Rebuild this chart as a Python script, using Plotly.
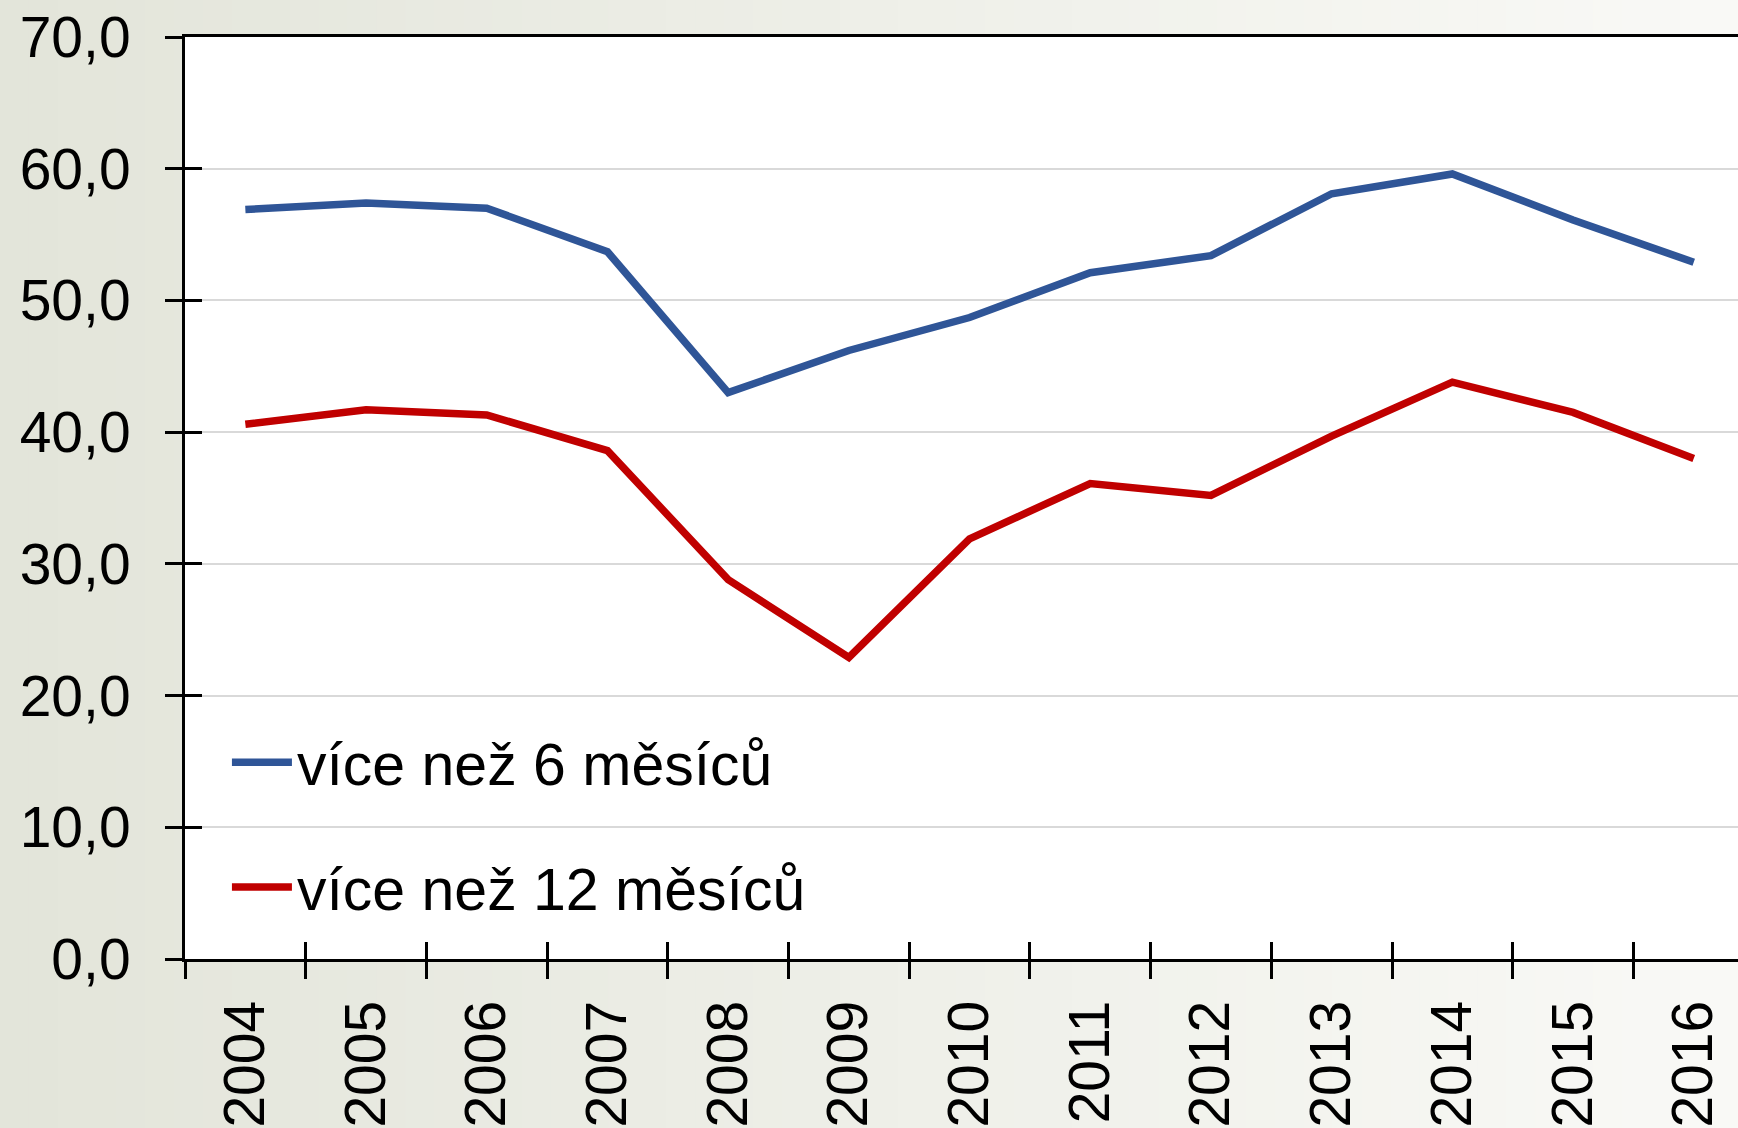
import plotly.graph_objects as go

years = ["2004", "2005", "2006", "2007", "2008", "2009", "2010",
         "2011", "2012", "2013", "2014", "2015", "2016"]
over_6_months = [56.9, 57.4, 57.0, 53.7, 43.0, 46.2, 48.7, 52.1, 53.4, 58.1, 59.6, 56.1, 52.9]
over_12_months = [40.6, 41.7, 41.3, 38.6, 28.8, 22.9, 31.9, 36.1, 35.2, 39.7, 43.8, 41.5, 38.0]
series_names = ["více než 6 měsíců", "více než 12 měsíců"]
y_ticks = [0, 10, 20, 30, 40, 50, 60, 70]

W, H = 1738, 1128
ML, MT, MB, MR = 185, 37, 164, 0
plot_w = W - ML - MR
plot_h = H - MT - MB

FONT = "Liberation Sans, Arial, sans-serif"
BLUE = "#2f5597"
RED = "#c00000"

fig = go.Figure()
fig.add_trace(go.Scatter(x=years, y=over_6_months, mode="lines", name=series_names[0],
                         line=dict(color=BLUE, width=7.5), legendgroup="a"))
fig.add_trace(go.Scatter(x=years, y=over_12_months, mode="lines", name=series_names[1],
                         line=dict(color=RED, width=7.5), legendgroup="b"))
# invisible trace to carry overlay axes for the crossing tick marks
fig.add_trace(go.Scatter(x=years, y=over_6_months, xaxis="x2", yaxis="y2", mode="lines",
                         line=dict(width=0, color="rgba(0,0,0,0)"), showlegend=False,
                         hoverinfo="skip"))

# background gradient (slide-like)
n = 60
c0 = (227, 229, 218)
c1 = (249, 249, 246)
x_left = -ML / plot_w
x_right = 1 + MR / plot_w
for i in range(n):
    t = i / (n - 1)
    col = tuple(int(round(c0[k] + (c1[k] - c0[k]) * t)) for k in range(3))
    fig.add_shape(type="rect", xref="paper", yref="paper", layer="below",
                  x0=x_left + (x_right - x_left) * i / n,
                  x1=x_left + (x_right - x_left) * (i + 1) / n + 0.002,
                  y0=-MB / plot_h - 0.01, y1=1 + MT / plot_h + 0.01,
                  line=dict(width=0), fillcolor="rgb(%d,%d,%d)" % col)
# white plot area on top of the gradient
fig.add_shape(type="rect", xref="paper", yref="paper", layer="below",
              x0=0, x1=1, y0=0, y1=1, line=dict(width=0), fillcolor="white")

xrange = [-0.5, -0.5 + (W - ML) / 120.7]

fig.update_layout(
    width=W, height=H,
    margin=dict(l=ML, r=MR, t=MT, b=MB, pad=0),
    paper_bgcolor="rgb(238,239,232)",
    plot_bgcolor="white",
    separators=", ",
    font=dict(family=FONT, size=57, color="black"),
    showlegend=True,
    legend=dict(x=0.027, y=0.262, xanchor="left", yanchor="top",
                bgcolor="rgba(0,0,0,0)", borderwidth=0,
                font=dict(family=FONT, size=59, color="black"),
                traceorder="grouped", tracegroupgap=45, itemwidth=60),
    xaxis=dict(type="category", range=xrange, tickson="boundaries",
               ticks="outside", ticklen=17, tickwidth=3, tickcolor="black",
               showline=True, linecolor="black", linewidth=3, mirror=True,
               showgrid=False, zeroline=False, tickangle=-90,
               ticklabelstandoff=16,
               tickfont=dict(family=FONT, size=57, color="black")),
    yaxis=dict(range=[0, 70], tickvals=y_ticks, tickformat=".1f",
               ticks="outside", ticklen=17, tickwidth=3, tickcolor="black",
               showline=True, linecolor="black", linewidth=3,
               showgrid=True, gridcolor="#d9d9d9", gridwidth=2, zeroline=False,
               ticklabelstandoff=23,
               tickfont=dict(family=FONT, size=57, color="black")),
    xaxis2=dict(type="category", range=xrange, tickson="boundaries", overlaying="x",
                anchor="y", side="bottom", ticks="inside", ticklen=17, tickwidth=3,
                tickcolor="black", showticklabels=False, showgrid=False,
                zeroline=False, showline=False),
    yaxis2=dict(range=[0, 70], tickvals=y_ticks, overlaying="y", anchor="x", side="left",
                ticks="inside", ticklen=17, tickwidth=3, tickcolor="black",
                showticklabels=False, showgrid=False, zeroline=False, showline=False),
)

fig.write_html("out.html", config={"displayModeBar": False},
               post_script="document.body.style.margin='0';document.body.style.overflow='hidden';")
